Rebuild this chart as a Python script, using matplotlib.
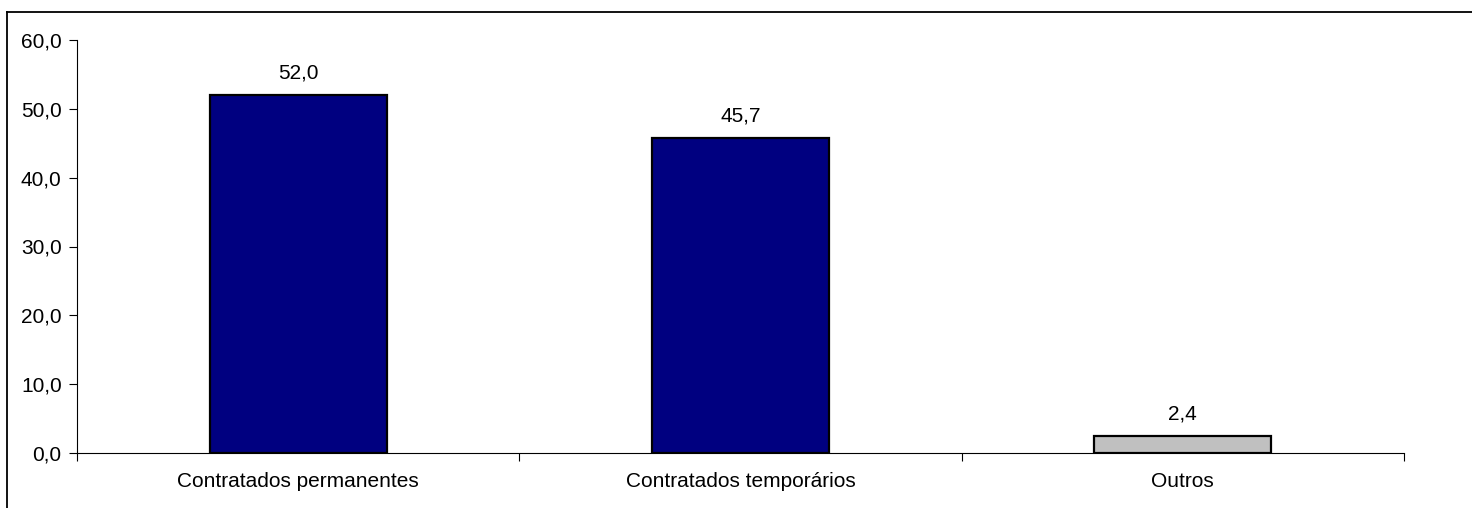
import matplotlib.pyplot as plt
from matplotlib.lines import Line2D
import numpy as np

plt.rcParams['font.family'] = ['Liberation Sans', 'DejaVu Sans']

categorias = ['Contratados permanentes', 'Contratados temporários', 'Outros']
valores = [52.0, 45.7, 2.4]
cores = ['#000080', '#000080', '#C0C0C0']
yticks = [0, 10, 20, 30, 40, 50, 60]

fig = plt.figure(figsize=(14.72, 5.08), dpi=100)
ax = fig.add_axes([77/1472, 1 - 453/508, (1404 - 77)/1472, (453 - 40)/508])

x = np.arange(len(categorias))
ax.bar(x, valores, width=0.4, color=cores, edgecolor='black', linewidth=1.6, zorder=3)

for xi, v in zip(x, valores):
    ax.annotate(f"{v:.1f}".replace('.', ','), (xi, v), textcoords='offset points',
                xytext=(0, 9), ha='center', va='bottom', fontsize=15)

ax.set_xlim(-0.5, len(categorias) - 0.5)
ax.set_ylim(0, 60)
ax.set_yticks(yticks)
ax.set_yticklabels([f"{t:.1f}".replace('.', ',') for t in yticks], fontsize=15)

# rótulos das categorias no centro, traços nos limites
ax.set_xticks(x)
ax.set_xticklabels(categorias, fontsize=15)
ax.tick_params(axis='x', length=0, pad=14)
ax.set_xticks(np.arange(len(categorias) + 1) - 0.5, minor=True)
ax.tick_params(axis='x', which='minor', length=6, direction='out', width=0.8)
ax.tick_params(axis='y', length=6, direction='out', width=0.8, pad=5)

ax.spines['top'].set_visible(False)
ax.spines['right'].set_visible(False)
for s in ['left', 'bottom']:
    ax.spines[s].set_linewidth(0.8)

# moldura da área do gráfico (cortada)
fig.add_artist(Line2D([7/1472, 7/1472], [0, 1 - 12/508], color='black', linewidth=1.3))
fig.add_artist(Line2D([7/1472, 1], [1 - 12/508, 1 - 12/508], color='black', linewidth=1.3))

plt.savefig('out.png', dpi=100)
plt.close()
